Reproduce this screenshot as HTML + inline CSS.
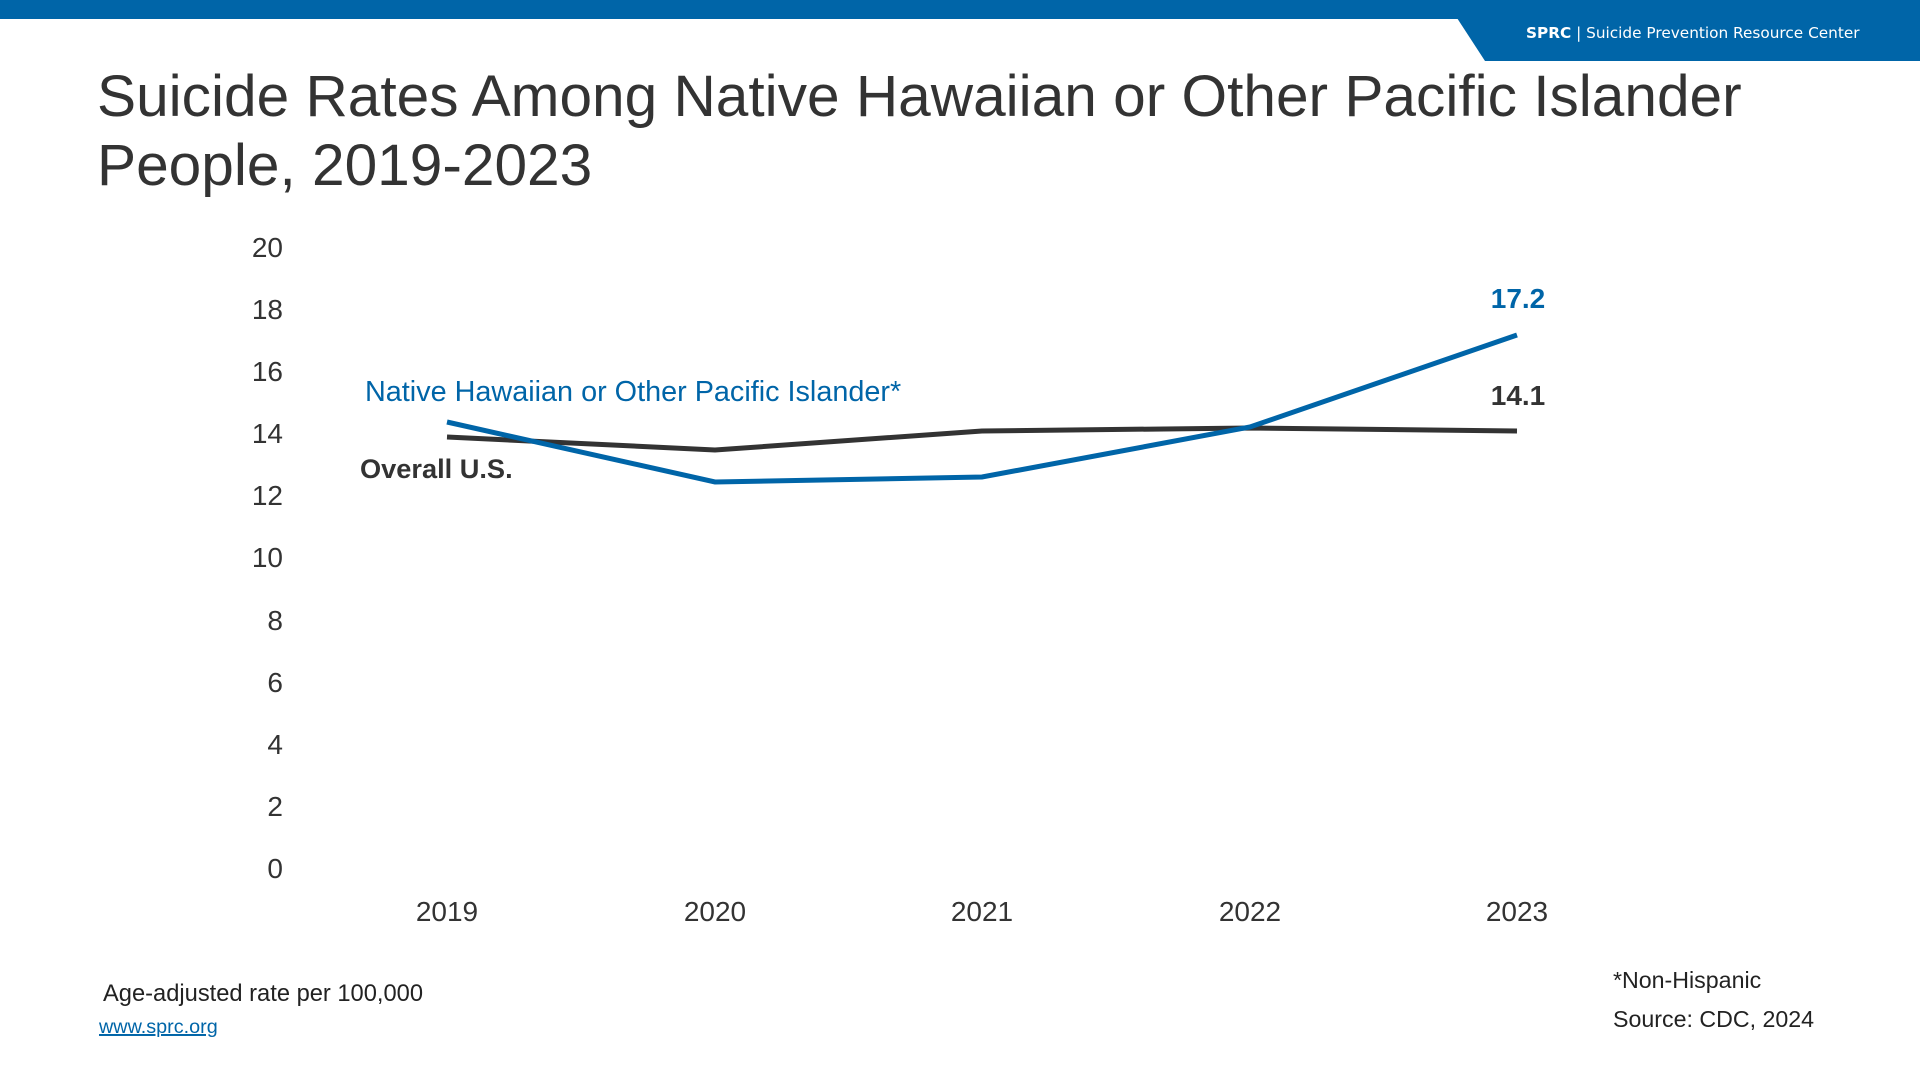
<!DOCTYPE html>
<html><head><style>
body{margin:0;width:1920px;height:1080px;background:#fff;overflow:hidden;font-family:"Liberation Sans",sans-serif;}
</style></head><body>
<svg width="1920" height="1080" xmlns="http://www.w3.org/2000/svg" style="position:absolute;left:0;top:0">
<rect x="0" y="0" width="1920" height="19" fill="#0065a8"/>
<polygon points="1457,18 1920,18 1920,61 1485,61" fill="#0065a8"/>
<text x="1526" y="38" fill="#fff" font-size="15.3" font-family="DejaVu Sans, sans-serif"><tspan font-weight="bold">SPRC</tspan>  |  Suicide Prevention Resource Center</text>
<text x="97" y="116" fill="#333" font-size="58.6">Suicide Rates Among Native Hawaiian or Other Pacific Islander</text>
<text x="97" y="185" fill="#333" font-size="58.6">People, 2019-2023</text>
<g font-size="28" fill="#333" text-anchor="end">
<text x="283" y="257">20</text><text x="283" y="319">18</text><text x="283" y="381">16</text><text x="283" y="443">14</text><text x="283" y="505">12</text><text x="283" y="567">10</text><text x="283" y="630">8</text><text x="283" y="692">6</text><text x="283" y="754">4</text><text x="283" y="816">2</text><text x="283" y="878">0</text>
</g>
<g font-size="28" fill="#333" text-anchor="middle">
<text x="447" y="921">2019</text><text x="715" y="921">2020</text><text x="982" y="921">2021</text><text x="1250" y="921">2022</text><text x="1517" y="921">2023</text>
</g>
<polyline points="447,437 715,450 982,431 1250,428 1517,431" fill="none" stroke="#333" stroke-width="5"/>
<polyline points="447,422 715,482 982,477 1250,427 1517,335" fill="none" stroke="#0065a8" stroke-width="5"/>
<text x="365" y="401" fill="#0065a8" font-size="28.8">Native Hawaiian or Other Pacific Islander*</text>
<text x="360" y="478" fill="#333" font-size="27.2" font-weight="bold">Overall U.S.</text>
<text x="1518" y="308" fill="#0065a8" font-size="28" font-weight="bold" text-anchor="middle">17.2</text>
<text x="1518" y="405" fill="#333" font-size="28" font-weight="bold" text-anchor="middle">14.1</text>
<text x="103" y="1001" fill="#222" font-size="23.7">Age-adjusted rate per 100,000</text>
<text x="99" y="1033" fill="#0065a8" font-size="19.8" text-decoration="underline">www.sprc.org</text>
<text x="1613" y="988" fill="#222" font-size="23.2">*Non-Hispanic</text>
<text x="1613" y="1027" fill="#222" font-size="23.2">Source: CDC, 2024</text>
</svg>
</body></html>
